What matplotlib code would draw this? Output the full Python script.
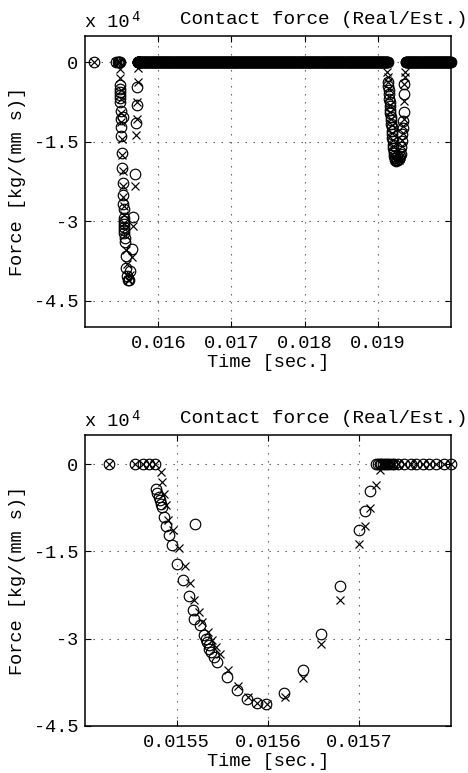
#!/usr/bin/python
#
# Contact force, real vs. estimated, full run and a zoom on the first contact.

import numpy as np
import matplotlib
matplotlib.use('Agg')
import matplotlib.pyplot as plt

plt.rcParams['font.family'] = ['Liberation Mono', 'DejaVu Sans Mono']
plt.rcParams['font.size'] = 13.4

# Time in seconds, force in units of 1e4 kg/(mm s).

# zero samples before the first contact (both signals)
t_zero_pre = [0.015123, 0.015426, 0.015455, 0.015463, 0.015470, 0.015477]

# first contact, real force (circles)
t_real_c1 = [0.015478, 0.015479, 0.015481, 0.015482, 0.015483, 0.015484, 0.015486,
             0.015488, 0.015492, 0.015495, 0.015501, 0.015507, 0.015514, 0.015518,
             0.015519, 0.015520, 0.015526, 0.015530, 0.015532, 0.015533, 0.015535,
             0.015536, 0.015538, 0.015541, 0.015544, 0.015555, 0.015566, 0.015577,
             0.015588, 0.015598, 0.015618, 0.015638, 0.015658, 0.015679, 0.015700,
             0.015706, 0.015712]
f_real_c1 = [-0.42, -0.50, -0.56, -0.62, -0.68, -0.74, -0.91,
             -1.07, -1.22, -1.39, -1.71, -2.00, -2.27, -2.51,
             -2.67, -1.03, -2.77, -2.94, -3.00, -3.05, -3.11,
             -3.17, -3.23, -3.31, -3.40, -3.66, -3.89, -4.03,
             -4.11, -4.12, -3.94, -3.53, -2.92, -2.10, -1.14,
             -0.81, -0.46]

# first contact, estimated force (crosses)
t_est_c1 = [0.015483, 0.015484, 0.015486, 0.015488, 0.015491, 0.015496, 0.015503,
            0.015509, 0.015515, 0.015519, 0.015525, 0.015528, 0.015534, 0.015539,
            0.015543, 0.015547, 0.015556, 0.015567, 0.015578, 0.015588, 0.015599,
            0.015619, 0.015638, 0.015658, 0.015679, 0.015700, 0.015706, 0.015712,
            0.015718, 0.015722]
f_est_c1 = [-0.13, -0.30, -0.52, -0.70, -0.96, -1.13, -1.45,
            -1.75, -2.05, -2.34, -2.54, -2.71, -2.88, -3.03,
            -3.15, -3.26, -3.54, -3.81, -4.01, -4.11, -4.12,
            -4.01, -3.67, -3.09, -2.33, -1.38, -1.07, -0.75,
            -0.36, -0.10]

# zero samples right after the first contact
t_zero_post1 = [0.015718, 0.015720, 0.015722, 0.015724, 0.015726, 0.015728, 0.015730,
                0.015732, 0.015735, 0.015738, 0.015742, 0.015749, 0.015756, 0.015762,
                0.015769, 0.015776, 0.015784, 0.015792, 0.015800]

# long zero stretches sampled at a fixed solver step: (first, last, step)
zero_runs = [(0.015808, 0.019132, 8e-6),
             (0.019380, 0.020000, 8e-6)]

# second contact, real force
t_real_c2 = [0.019140, 0.019144, 0.019148, 0.019152, 0.019156, 0.019160, 0.019164,
             0.019168, 0.019172, 0.019176, 0.019180, 0.019184, 0.019188, 0.019192,
             0.019196, 0.019200, 0.019204, 0.019208, 0.019212, 0.019216, 0.019220,
             0.019225, 0.019230, 0.019236, 0.019244,
             0.019262, 0.019285, 0.019305, 0.019315, 0.019322, 0.019328, 0.019334,
             0.019340, 0.019346, 0.019352, 0.019358, 0.019362]
f_real_c2 = [-0.37, -0.44, -0.53, -0.60, -0.69, -0.75, -0.83,
             -0.89, -0.96, -1.03, -1.09, -1.17, -1.22, -1.30,
             -1.36, -1.43, -1.49, -1.56, -1.61, -1.67, -1.72,
             -1.77, -1.81, -1.84, -1.86,
             -1.85, -1.82, -1.77, -1.73, -1.60, -1.48, -1.35,
             -1.23, -1.10, -0.94, -0.59, -0.40]

# second contact, estimated force
t_est_c2 = [0.019128, 0.019134, 0.019140, 0.019148, 0.019156, 0.019164, 0.019172,
            0.019180, 0.019188, 0.019196, 0.019204, 0.019212, 0.019220, 0.019230,
            0.019240,
            0.019262, 0.019285, 0.019305, 0.019315, 0.019322, 0.019328, 0.019334,
            0.019340, 0.019346, 0.019352, 0.019358, 0.019362, 0.019366, 0.019372]
f_est_c2 = [-0.18, -0.28, -0.36, -0.50, -0.66, -0.80, -0.93,
            -1.06, -1.19, -1.33, -1.46, -1.58, -1.69, -1.79,
            -1.85,
            -1.86, -1.84, -1.80, -1.76, -1.71, -1.58, -1.46,
            -1.33, -1.20, -1.06, -0.72, -0.40, -0.28, -0.18]

y_ticks = [-4.5, -3, -1.5, 0]
y_tick_labels = ['-4.5', '-3', '-1.5', '0']


def run_times(run):
    start, stop, step = run
    n = int(round((stop - start) / step)) + 1
    return [start + i * step for i in range(n)]
#END: run_times


def build_series(t_c1, f_c1, t_c2, f_c2):
    post1 = [t for t in t_zero_post1 if t > max(t_c1)]
    run1 = run_times(zero_runs[0])
    run2 = [t for t in run_times(zero_runs[1]) if t > max(t_c2)]
    t = t_zero_pre + list(t_c1) + post1 + run1 + list(t_c2) + run2
    f = ([0.0] * len(t_zero_pre) + list(f_c1) + [0.0] * len(post1) +
         [0.0] * len(run1) + list(f_c2) + [0.0] * len(run2))
    return np.array(t), np.array(f)
#END: build_series


t_real, f_real = build_series(t_real_c1, f_real_c1, t_real_c2, f_real_c2)
t_est, f_est = build_series(t_est_c1, f_est_c1, t_est_c2, f_est_c2)


def draw_panel(ax, xlim, ylim, xticks, xtick_labels):
    # markers are drawn whole when their centre is inside the box
    m = (t_real >= xlim[0] - 1e-9) & (t_real <= xlim[1] + 1e-9)
    ax.plot(t_real[m], f_real[m], 'o', mfc='none', mec='k', ms=7.6, mew=0.85,
            clip_on=False, zorder=3)
    m = (t_est >= xlim[0] - 1e-9) & (t_est <= xlim[1] + 1e-9)
    ax.plot(t_est[m], f_est[m], 'x', color='k', ms=6.3, mew=0.85,
            clip_on=False, zorder=4)

    ax.set_xlim(xlim)
    ax.set_ylim(ylim)
    ax.set_xticks(xticks)
    ax.set_xticklabels(xtick_labels)
    ax.set_yticks(y_ticks)
    ax.set_yticklabels(y_tick_labels)
    ax.grid(True, linestyle=(0, (1.2, 6.0)), color='0.3', linewidth=0.8)
    ax.tick_params(direction='in', length=4, width=0.8, top=True, right=True)
    ax.tick_params(axis='x', pad=6)
    ax.tick_params(axis='y', pad=5)
    for s in ax.spines.values():
        s.set_linewidth(1.1)

    ax.set_xlabel('Time [sec.]')
    ax.xaxis.set_label_coords(0.5, -0.094)
    ax.set_ylabel('Force [kg/(mm s)]')
    ax.yaxis.set_label_coords(-0.162, 0.5)

    ax.text(0.0, 1.032, 'x 10', transform=ax.transAxes, ha='left', va='baseline')
    ax.text(0.126, 1.052, '4', transform=ax.transAxes, ha='left', va='baseline',
            fontsize=10)
    ax.text(0.260, 1.041, 'Contact force (Real/Est.)', transform=ax.transAxes,
            ha='left', va='baseline', fontsize=13.9)
#END: draw_panel


fig = plt.figure(figsize=(4.68, 7.73), dpi=100)
ax_full = fig.add_axes([85 / 468, 1 - 327 / 773, 366 / 468, 291 / 773])
ax_zoom = fig.add_axes([85 / 468, 1 - 726 / 773, 366 / 468, 291 / 773])

draw_panel(ax_full, (0.015, 0.020), (-5.0, 0.5),
           [0.016, 0.017, 0.018, 0.019], ['0.016', '0.017', '0.018', '0.019'])
draw_panel(ax_zoom, (0.0154, 0.0158), (-4.5, 0.5),
           [0.0155, 0.0156, 0.0157], ['0.0155', '0.0156', '0.0157'])

fig.savefig('out.png', dpi=100)
